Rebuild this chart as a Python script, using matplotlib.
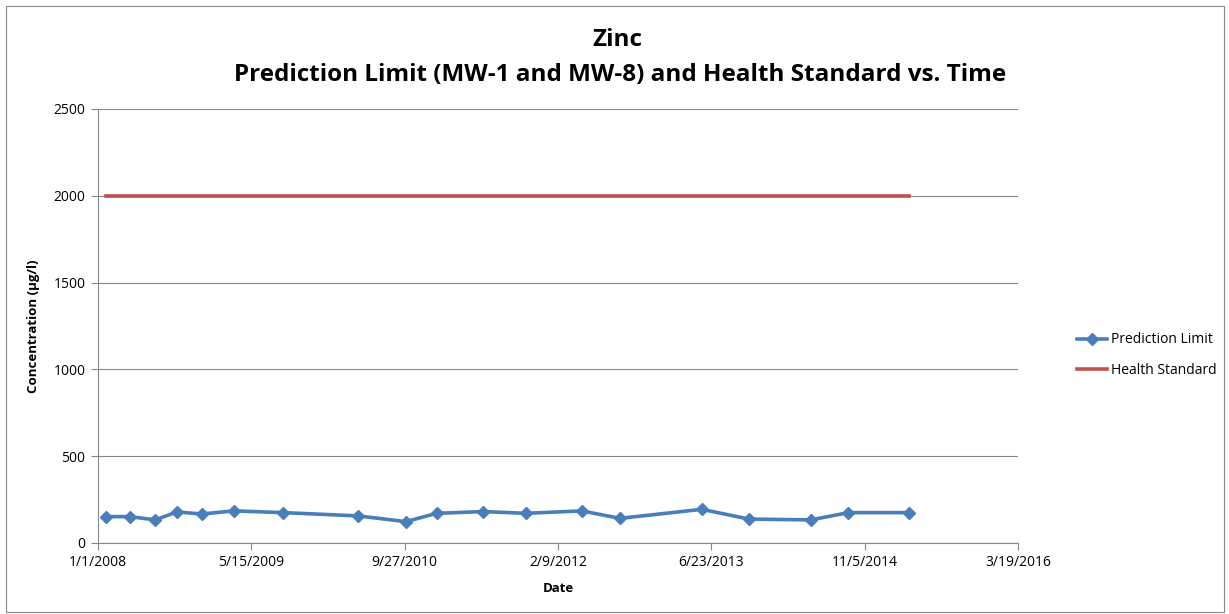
import matplotlib
matplotlib.use("Agg")
import matplotlib.pyplot as plt
import matplotlib.dates as mdates
from matplotlib.patches import Rectangle
from datetime import datetime

# data
pred_dates = ["2008-01-27", "2008-04-14", "2008-07-06", "2008-09-14", "2008-12-04",
              "2009-03-19", "2009-08-27", "2010-04-29", "2010-10-01", "2011-01-09",
              "2011-06-10", "2011-10-28", "2012-04-26", "2012-08-29", "2013-05-23",
              "2013-10-23", "2014-05-13", "2014-09-13", "2015-03-31"]
pred_values = [152, 152, 133, 179, 167, 185, 175, 156, 123, 171,
               181, 171, 185, 142, 194, 138, 133, 175, 175]
health_dates = ["2008-01-27", "2015-03-31"]
health_values = [2000, 2000]
tick_dates = ["2008-01-01", "2009-05-15", "2010-09-27", "2012-02-09",
              "2013-06-23", "2014-11-05", "2016-03-19"]
tick_labels = ["1/1/2008", "5/15/2009", "9/27/2010", "2/9/2012",
               "6/23/2013", "11/5/2014", "3/19/2016"]

plt.rcParams['font.family'] = ['Open Sans', 'DejaVu Sans']

def d(s):
    return datetime.strptime(s, "%Y-%m-%d")

fig = plt.figure(figsize=(12.29, 6.14), dpi=100)
ax = fig.add_axes([98/1229, 1 - 543/614, 920/1229, 434/614])

ax.plot([d(s) for s in pred_dates], pred_values, color="#4A7EBB", lw=2.6,
        marker="D", markersize=6.5, label="Prediction Limit", zorder=3)
ax.plot([d(s) for s in health_dates], health_values, color="#C0504D", lw=2.6,
        label="Health Standard", zorder=3)

ax.set_xlim(d(tick_dates[0]), d(tick_dates[-1]))
ax.set_ylim(0, 2500)
ax.set_xticks([d(s) for s in tick_dates])
ax.set_xticklabels(tick_labels, fontsize=10)
ax.set_yticks(range(0, 2501, 500))
ax.set_yticklabels([str(v) for v in range(0, 2501, 500)], fontsize=10)
ax.grid(axis="y", color="#878787", lw=0.8)
ax.set_axisbelow(True)
for side in ["top", "right"]:
    ax.spines[side].set_visible(False)
for side in ["left", "bottom"]:
    ax.spines[side].set_color("#878787")
    ax.spines[side].set_linewidth(0.8)
ax.tick_params(direction="out", length=5, color="#878787", width=0.8, pad=4)

ax.set_xlabel("Date", fontsize=9.5, fontweight="bold", labelpad=8)
ax.set_ylabel("Concentration (µg/l)", fontsize=9.5, fontweight="bold", labelpad=10)

fig.text(617/1229, 1 - 40/614, "Zinc", ha="center", va="center",
         fontsize=17.5, fontweight="bold")
fig.text(620/1229, 1 - 75/614,
         "Prediction Limit (MW-1 and MW-8) and Health Standard vs. Time",
         ha="center", va="center", fontsize=17.5, fontweight="bold")

fig.legend(loc="center left", bbox_to_anchor=(1064/1229, 1 - 355/614),
           frameon=False, fontsize=10, handlelength=2.2, handletextpad=0.3,
           labelspacing=1.1)

fig.patches.append(Rectangle((6/1229, 2/614), 1218/1229, 606/614, transform=fig.transFigure,
                             fill=False, edgecolor="#878787", lw=0.8))

fig.savefig("out.png", dpi=100)
